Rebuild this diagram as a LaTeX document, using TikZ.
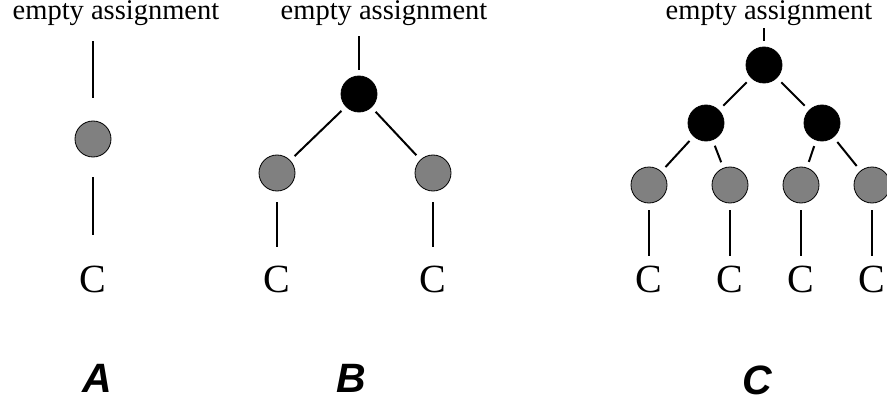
\documentclass[tikz,border=0pt]{standalone}
\usepackage{fontspec}
\setmainfont{Liberation Serif}
\newfontfamily\tagfont{Liberation Sans}

\begin{document}
\begin{tikzpicture}[
        x=1pt, y=-1pt,
        start/.style={anchor=base, inner sep=0pt, font=\fontsize{28.5}{30}\selectfont},
        split/.style={circle, draw, fill=black, line width=0.8pt, minimum size=36pt, inner sep=0pt},
        leaf/.style={circle, draw, fill=gray, line width=0.8pt, minimum size=36pt, inner sep=0pt},
        result/.style={anchor=base, inner sep=0pt, font=\fontsize{40}{42}\selectfont},
        tag/.style={anchor=base, inner sep=0pt, font=\tagfont\bfseries\itshape\fontsize{41}{43}\selectfont},
        link/.style={line width=2pt, shorten <=6pt, shorten >=6pt}
    ]

        \useasboundingbox (0,0) rectangle (887,404);

        % Define nodes for tree A
        \node[start] (tA) at (116,19.5) {empty assignment};
        \node[leaf] (nA) at (93,139) {};
        \node[result] (cA) at (93,292) {C};

        % Define nodes for tree B
        \node[start] (tB) at (384,19.5) {empty assignment};
        \node[split] (rB) at (359,94) {};
        \node[leaf] (lB) at (277,173) {};
        \node[leaf] (mB) at (433,173) {};
        \node[result] (cB1) at (277,292) {C};
        \node[result] (cB2) at (433,292) {C};

        % Define nodes for tree C
        \node[start] (tC) at (769,19.5) {empty assignment};
        \node[split] (rC) at (764,65) {};
        \node[split] (sC1) at (706,123) {};
        \node[split] (sC2) at (822,123) {};
        \node[leaf] (lC1) at (649,185) {};
        \node[leaf] (lC2) at (730,185) {};
        \node[leaf] (lC3) at (801,185) {};
        \node[leaf] (lC4) at (872,185) {};
        \node[result] (cC1) at (649,292) {C};
        \node[result] (cC2) at (730,292) {C};
        \node[result] (cC3) at (801,292) {C};
        \node[result] (cC4) at (872,292) {C};

        % Tree A links
        \draw[link, shorten <=15.5pt, shorten >=23pt] (nA |- tA.south) -- (nA);
        \draw[link, shorten <=20pt, shorten >=30pt] (nA) -- (cA);

        % Tree B links
        \draw[link, shorten <=10.5pt, shorten >=6pt] (rB |- tB.south) -- (rB);
        \draw[link] (rB) -- (lB);
        \draw[link] (rB) -- (mB);
        \draw[link, shorten <=11pt, shorten >=18pt] (lB) -- (cB1);
        \draw[link, shorten <=11pt, shorten >=18pt] (mB) -- (cB2);

        % Tree C links
        \draw[link, shorten <=2.5pt, shorten >=6pt] (rC |- tC.south) -- (rC);
        \draw[link] (rC) -- (sC1);
        \draw[link] (rC) -- (sC2);
        \draw[link] (sC1) -- (lC1);
        \draw[link] (sC1) -- (lC2);
        \draw[link] (sC2) -- (lC3);
        \draw[link] (sC2) -- (lC4);
        \draw[link, shorten <=7pt, shorten >=9pt] (lC1) -- (cC1);
        \draw[link, shorten <=7pt, shorten >=9pt] (lC2) -- (cC2);
        \draw[link, shorten <=7pt, shorten >=9pt] (lC3) -- (cC3);
        \draw[link, shorten <=7pt, shorten >=9pt] (lC4) -- (cC4);

        % Labels
        \node[tag] (labA) at (97,392) {A};
        \node[tag] (labB) at (351,392) {B};
        \node[tag] (labC) at (757,394) {C};

    \end{tikzpicture}
\end{document}
